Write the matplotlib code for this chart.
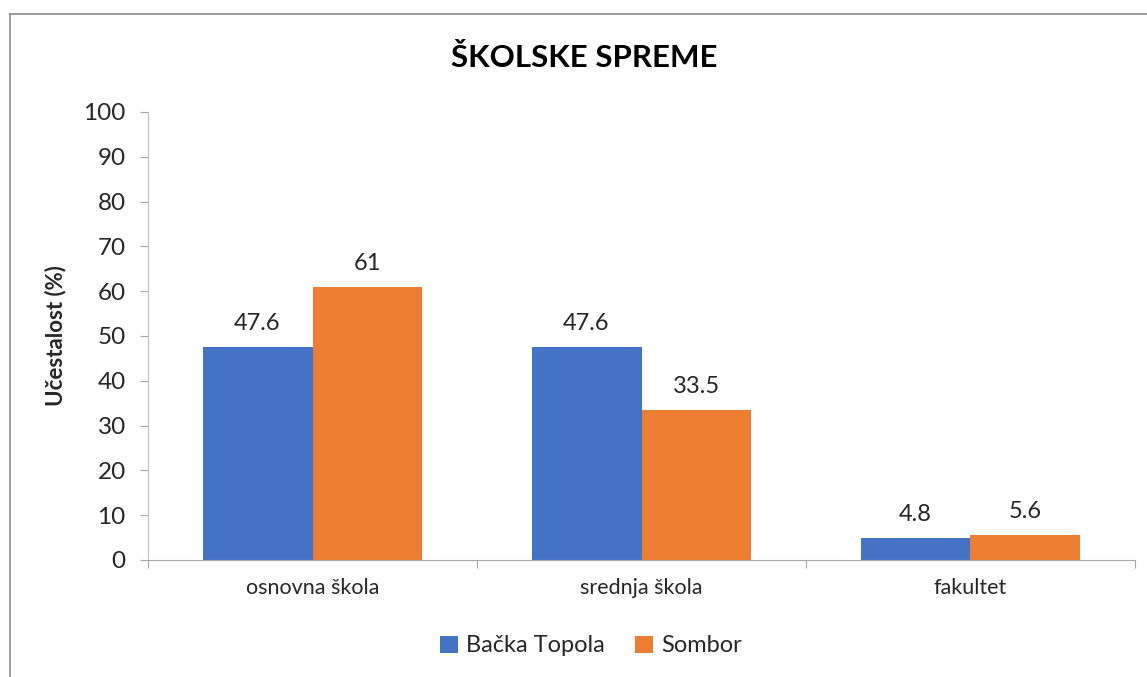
import matplotlib.pyplot as plt
import numpy as np
from matplotlib.lines import Line2D

plt.rcParams['font.family'] = ['Lato', 'DejaVu Sans']

categories = ['osnovna škola', 'srednja škola', 'fakultet']
backa_topola = [47.6, 47.6, 4.8]
sombor = [61, 33.5, 5.6]
series_names = ['Bačka Topola', 'Sombor']
colors = ['#4472C4', '#ED7D31']
yticks = list(range(0, 101, 10))

fig = plt.figure(figsize=(11.47, 6.77), dpi=100)
ax = fig.add_axes([148 / 1147, 1 - 560 / 677, (1135 - 148) / 1147, (560 - 112) / 677])

x = np.arange(len(categories))
w = 0.334
b1 = ax.bar(x - w / 2, backa_topola, w, color=colors[0], label=series_names[0])
b2 = ax.bar(x + w / 2, sombor, w, color=colors[1], label=series_names[1])

for bars, vals in [(b1, backa_topola), (b2, sombor)]:
    for bar, v in zip(bars, vals):
        ax.annotate(f'{v:g}', xy=(bar.get_x() + bar.get_width() / 2, v),
                    xytext=(0, 17), textcoords='offset points',
                    ha='center', va='center', fontsize=17, color='#262626')

ax.set_xlim(-0.5, 2.5)
ax.set_ylim(0, 100)
ax.set_yticks(yticks)
ax.tick_params(axis='y', labelsize=17.5, length=6, color='#a6a6a6', labelcolor='#262626', pad=10)

# category separators on the x axis
ax.set_xticks(np.arange(-0.5, 3, 1))
ax.set_xticklabels([])
ax.tick_params(axis='x', length=6, color='#a6a6a6')
ax.set_xticks(x, minor=True)
ax.set_xticklabels(categories, minor=True)
ax.tick_params(axis='x', which='minor', length=0, labelsize=15.5, labelcolor='#262626', pad=13)

for s in ['top', 'right']:
    ax.spines[s].set_visible(False)
ax.spines['left'].set_color('#bfbfbf')
ax.spines['bottom'].set_color('#a6a6a6')

ax.set_ylabel('Učestalost (%)', fontsize=16, fontweight='bold', color='#262626', labelpad=12)
fig.text(584 / 1147, 1 - 58 / 677, 'ŠKOLSKE SPREME', ha='center', va='center',
         fontsize=22.5, fontweight='bold', color='#000000')

fig.legend(handles=[b1, b2], loc='center', bbox_to_anchor=(591 / 1147, 1 - 646 / 677),
           ncol=2, frameon=False, fontsize=17, handlelength=0.75, handleheight=0.75,
           handletextpad=0.35, columnspacing=1.3, labelcolor='#262626')

# chart frame (cropped at right and bottom)
fig.add_artist(Line2D([9.5 / 1147, 1.0], [1 - 13.5 / 677] * 2, color='#8c8c8c', lw=1.2))
fig.add_artist(Line2D([9.5 / 1147] * 2, [0.0, 1 - 13.5 / 677], color='#8c8c8c', lw=1.2))

fig.savefig('out.png', dpi=100)
